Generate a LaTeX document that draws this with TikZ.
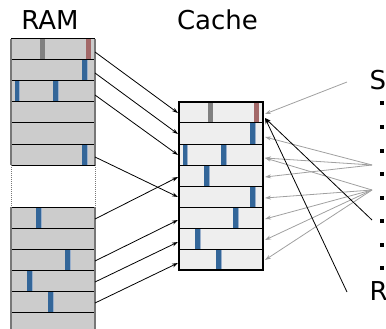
\documentclass[tikz,border=0pt]{standalone}
\usepackage{fontspec}
\setmainfont{DejaVu Sans}
\usetikzlibrary{arrows.meta}
\definecolor{ramfill}{HTML}{CCCCCC}
\definecolor{cachefill}{HTML}{EEEEEE}
\definecolor{barblue}{HTML}{336699}
\definecolor{barshade}{HTML}{9AB0CC}
\definecolor{bargray}{HTML}{808080}
\definecolor{barred}{HTML}{A36868}
\definecolor{sidegray}{HTML}{777777}
\definecolor{ptrgray}{HTML}{A0A0A0}
\tikzset{
  rowline/.style={black,line width=1pt},
  sideline/.style={sidegray,line width=1.3pt},
  blk/.style={black,line width=0.8pt,-{Stealth[length=6pt,width=4pt]}},
  gry/.style={ptrgray,line width=0.8pt,-{Stealth[length=6pt,width=4pt]}},
  lbl/.style={inner sep=0pt,font=\fontsize{26}{30}\selectfont},
}
\newcommand{\membar}[3]{\fill[#3] (#1,#2) rectangle ++(4.5,21);\fill[barshade] (#1+4.5,#2) rectangle ++(1,21);}
\begin{document}
\begin{tikzpicture}[x=1pt,y=-1pt]
\useasboundingbox (0,0) rectangle (386,329);
\clip (0,0) rectangle (386,329);
% labels
\node[lbl,anchor=base] (ramlabel) at (50,30) {RAM};
\node[lbl,anchor=base] (cachelabel) at (217.5,30) {Cache};
\node[lbl,anchor=base west] (slabel) at (369.5,90) {S};
\node[lbl,anchor=base west] (rlabel) at (369.5,300) {R};
% RAM
\fill[ramfill] (11,39) rectangle (95,165);
\fill[ramfill] (11,207) rectangle (95,335);
\fill[bargray] (40,39) rectangle ++(4.5,21);
\fill[barred] (86,39) rectangle ++(5,21);
\membar{82}{60}{barblue}
\membar{14.5}{81}{barblue}
\membar{53}{81}{barblue}
\membar{82}{144}{barblue}
\membar{36}{207}{barblue}
\membar{65}{249}{barblue}
\membar{27}{270}{barblue}
\membar{48}{291}{barblue}
\foreach \t in {39,60,81,102,123,144,165,207,228,249,270,291,312}
  \draw[rowline] (11,\t) -- (95,\t);
\draw[sideline] (11,39) -- (11,165) (95,39) -- (95,165);
\draw[sideline] (11,207) -- (11,335) (95,207) -- (95,335);
\draw[sidegray,line width=1pt,densely dotted] (11,165) -- (11,207) (95,165) -- (95,207);
% Cache
\fill[cachefill] (179,102) rectangle (263,270);
\fill[bargray] (208,102) rectangle ++(4.5,21);
\fill[barred] (254,102) rectangle ++(5,21);
\membar{250}{123}{barblue}
\membar{182.5}{144}{barblue}
\membar{221}{144}{barblue}
\membar{204}{165}{barblue}
\membar{250}{186}{barblue}
\membar{233}{207}{barblue}
\membar{195}{228}{barblue}
\membar{216}{249}{barblue}
\foreach \t in {123,144,165,186,207,228,249}
  \draw[rowline] (179,\t) -- (263,\t);
\draw[black,line width=1.2pt] (179,102) rectangle (263,270);
% RAM -> cache connectors
\coordinate (r1) at (95,52);
\coordinate (r2) at (95,73);
\coordinate (r3) at (95,95);
\coordinate (r6) at (95,157);
\coordinate (l1) at (95,219);
\coordinate (l3) at (95,261);
\coordinate (l4) at (95,282);
\coordinate (l5) at (95,303);
\coordinate (c1) at (178,113);
\coordinate (c2) at (178,134);
\coordinate (c3) at (178,155);
\coordinate (c4) at (178,177);
\coordinate (c5) at (178,197);
\coordinate (c6) at (178,220);
\coordinate (c7) at (178,242);
\coordinate (c8) at (178,263);
\draw[blk] (r1) -- (c1);
\draw[blk] (r2) -- (c2);
\draw[blk] (r3) -- (c3);
\draw[blk] (r6) -- (c5);
\draw[blk] (l1) -- (c4);
\draw[blk] (l3) -- (c6);
\draw[blk] (l4) -- (c7);
\draw[blk] (l5) -- (c8);
% right side pointers
\coordinate (s0) at (347,82);
\coordinate (h1) at (372,165);
\coordinate (h2) at (372,190);
\coordinate (b1) at (372,220);
\coordinate (b2) at (347,292);
\coordinate (d1) at (265,114);
\coordinate (d2) at (265,137);
\coordinate (d3) at (265,158);
\coordinate (d4) at (265,177);
\coordinate (d5) at (265,198);
\coordinate (d6) at (265,219);
\coordinate (d7) at (265,240);
\coordinate (d8) at (265,260);
\coordinate (dt) at (265,118);
\draw[gry] (s0) -- (d1);
\draw[gry] (h1) -- (d2);
\draw[gry] (h1) -- (d3);
\draw[gry] (h1) -- (d4);
\draw[gry] (h2) -- (d3);
\draw[gry] (h2) -- (d5);
\draw[gry] (h2) -- (d6);
\draw[gry] (h2) -- (d7);
\draw[gry] (h2) -- (d8);
\draw[blk] (b1) -- (dt);
\draw[blk] (b2) -- (dt);
% bullets
\foreach \y in {103.5,127,150.5,174,197.5,221,244.5,268}
  \fill[black] (379.5,\y-2) rectangle (383.5,\y+2);
\end{tikzpicture}
\end{document}
